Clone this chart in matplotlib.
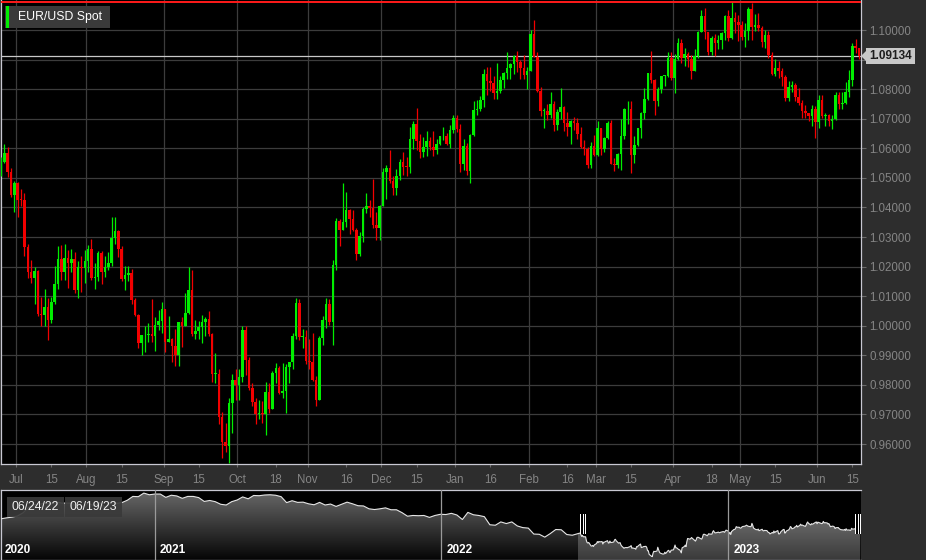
"""
EUR/USD Spot — velas diarias (jun 2022 - jun 2023) con navegador de 3 años.
"""

import numpy as np
import pandas as pd
import matplotlib
matplotlib.use("Agg")
import matplotlib.pyplot as plt  # noqa: E402
import matplotlib.dates as mdates  # noqa: E402
from matplotlib.patches import Rectangle, Polygon  # noqa: E402
from matplotlib.colors import LinearSegmentedColormap  # noqa: E402

plt.rcParams["font.family"] = ["Liberation Sans", "DejaVu Sans"]

# =====================================================================
# DATOS
# =====================================================================
TITULO = "EUR/USD Spot"
FECHA_INICIO, FECHA_FIN = "2022-06-24", "2023-06-19"

aperturas = [
    # jun 2022
    1.0520, 1.0554, 1.0583, 1.0519, 1.0442,
    # jul
    1.0484, 1.0426, 1.0425, 1.0266, 1.0182, 1.0162, 1.0186, 1.0040, 1.0036, 1.0062,
    1.0018, 1.0080, 1.0142, 1.0225, 1.0180, 1.0230, 1.0211, 1.0224, 1.0120, 1.0199, 1.0196,
    # ago
    1.0220, 1.0260, 1.0163, 1.0166, 1.0246, 1.0182, 1.0197, 1.0212, 1.0298, 1.0319,
    1.0259, 1.0159, 1.0170, 1.0178, 1.0088, 1.0036, 0.9942, 0.9967, 0.9970, 0.9973,
    0.9965, 1.0004, 1.0017,
    # sep
    1.0055, 0.9945, 0.9955, 0.9930, 0.9902, 1.0012, 1.0000, 1.0042, 1.0121, 0.9972,
    0.9981, 0.9994, 1.0014, 1.0024, 0.9971, 0.9838, 0.9838, 0.9690, 0.9607, 0.9592,
    0.9738, 0.9818,
    # oct
    0.9801, 0.9826, 0.9986, 0.9885, 0.9789, 0.9742, 0.9703, 0.9705, 0.9703, 0.9777,
    0.9720, 0.9841, 0.9857, 0.9774, 0.9778, 0.9861, 0.9876, 0.9966, 1.0078, 0.9963,
    0.9963,
    # nov
    0.9881, 0.9878, 0.9818, 0.9749, 0.9960, 1.0020, 1.0075, 1.0013, 1.0207, 1.0354,
    1.0325, 1.0350, 1.0393, 1.0362, 1.0325, 1.0244, 1.0305, 1.0396, 1.0406, 1.0399,
    1.0339, 1.0329,
    # dic
    1.0404, 1.0521, 1.0535, 1.0491, 1.0467, 1.0508, 1.0554, 1.0538, 1.0536, 1.0630,
    1.0682, 1.0626, 1.0587, 1.0606, 1.0623, 1.0605, 1.0595, 1.0616, 1.0640, 1.0640,
    1.0613, 1.0662,
    # ene 2023
    1.0704, 1.0665, 1.0547, 1.0607, 1.0522, 1.0645, 1.0731, 1.0734, 1.0762, 1.0851,
    1.0828, 1.0822, 1.0788, 1.0793, 1.0830, 1.0855, 1.0871, 1.0886, 1.0913, 1.0891,
    1.0871, 1.0849,
    # feb
    1.0863, 1.0988, 1.0910, 1.0794, 1.0726, 1.0727, 1.0713, 1.0749, 1.0680, 1.0723,
    1.0741, 1.0686, 1.0673, 1.0693, 1.0686, 1.0648, 1.0604, 1.0597, 1.0545, 1.0607,
    # mar
    1.0577, 1.0668, 1.0598, 1.0635, 1.0685, 1.0548, 1.0545, 1.0582, 1.0641, 1.0732,
    1.0732, 1.0577, 1.0610, 1.0668, 1.0718, 1.0767, 1.0855, 1.0831, 1.0760, 1.0800,
    1.0844, 1.0846, 1.0905,
    # abr
    1.0839, 1.0903, 1.0955, 1.0906, 1.0920, 1.0903, 1.0862, 1.0912, 1.0994, 1.1047,
    1.0993, 1.0925, 1.0973, 1.0955, 1.0966, 1.0991, 1.1049, 1.0973, 1.1040, 1.1027,
    # may
    1.1017, 1.0977, 1.0996, 1.1071, 1.1010, 1.1018, 1.1006, 1.0961, 1.0982, 1.0914,
    1.0850, 1.0873, 1.0862, 1.0841, 1.0771, 1.0806, 1.0813, 1.0773, 1.0752, 1.0726,
    1.0721, 1.0708, 1.0734,
    # jun
    1.0689, 1.0763, 1.0708, 1.0713, 1.0693, 1.0699, 1.0781, 1.0749, 1.0753, 1.0792,
    1.0830, 1.0945, 1.0939,
]

maximos = [
    1.0571, 1.0615, 1.0606, 1.0532, 1.0488,
    1.0486, 1.0463, 1.0449, 1.0276, 1.0221, 1.0200, 1.0188, 1.0098, 1.0123, 1.0093,
    1.0098, 1.0201, 1.0269, 1.0274, 1.0278, 1.0257, 1.0258, 1.0250, 1.0219, 1.0235, 1.0255,
    1.0274, 1.0294, 1.0211, 1.0254, 1.0252, 1.0235, 1.0248, 1.0369, 1.0368, 1.0325,
    1.0270, 1.0203, 1.0202, 1.0191, 1.0095, 1.0040, 0.9970, 0.9999, 1.0010, 1.0090,
    1.0030, 1.0054, 1.0080,
    1.0055, 1.0033, 0.9958, 0.9988, 1.0012, 1.0031, 1.0112, 1.0198, 1.0187, 1.0020,
    1.0017, 1.0037, 1.0030, 1.0051, 0.9976, 0.9907, 0.9853, 0.9707, 0.9670, 0.9754,
    0.9838, 0.9853,
    0.9853, 0.9999, 0.9999, 0.9894, 0.9807, 0.9755, 0.9750, 0.9747, 0.9809, 0.9807,
    0.9848, 0.9875, 0.9864, 0.9874, 0.9871, 0.9876, 0.9976, 1.0094, 1.0089, 0.9990,
    0.9984,
    0.9954, 0.9977, 0.9831, 0.9964, 1.0034, 1.0094, 1.0089, 1.0222, 1.0364, 1.0360,
    1.0481, 1.0453, 1.0395, 1.0390, 1.0331, 1.0318, 1.0402, 1.0448, 1.0426, 1.0497,
    1.0386, 1.0408,
    1.0534, 1.0544, 1.0594, 1.0507, 1.0530, 1.0564, 1.0588, 1.0569, 1.0673, 1.0694,
    1.0736, 1.0650, 1.0638, 1.0660, 1.0638, 1.0658, 1.0633, 1.0643, 1.0672, 1.0651,
    1.0679, 1.0714,
    1.0712, 1.0683, 1.0632, 1.0617, 1.0648, 1.0760, 1.0762, 1.0777, 1.0868, 1.0874,
    1.0875, 1.0844, 1.0887, 1.0845, 1.0859, 1.0927, 1.0889, 1.0915, 1.0930, 1.0898,
    1.0914, 1.0874,
    1.1001, 1.1033, 1.0925, 1.0806, 1.0736, 1.0749, 1.0790, 1.0760, 1.0733, 1.0805,
    1.0744, 1.0722, 1.0695, 1.0705, 1.0703, 1.0673, 1.0628, 1.0606, 1.0621, 1.0646,
    1.0691, 1.0670, 1.0637, 1.0694, 1.0695, 1.0566, 1.0584, 1.0700, 1.0736, 1.0759,
    1.0759, 1.0640, 1.0670, 1.0722, 1.0803, 1.0856, 1.0930, 1.0836, 1.0806, 1.0845,
    1.0849, 1.0927, 1.0925,
    1.0918, 1.0973, 1.0971, 1.0939, 1.0924, 1.0915, 1.0935, 1.0998, 1.1067, 1.1075,
    1.0993, 1.0980, 1.0985, 1.0983, 1.0994, 1.1050, 1.1068, 1.1095, 1.1060, 1.1050,
    1.1030, 1.1024, 1.1079, 1.1092, 1.1055, 1.1058, 1.1013, 1.1001, 1.0995, 1.0926,
    1.0901, 1.0895, 1.0872, 1.0848, 1.0829, 1.0827, 1.0820, 1.0804, 1.0762, 1.0746,
    1.0721, 1.0746, 1.0743,
    1.0779, 1.0780, 1.0720, 1.0717, 1.0713, 1.0789, 1.0792, 1.0790, 1.0823, 1.0865,
    1.0955, 1.0970, 1.0940,
]

minimos = [
    1.0506, 1.0549, 1.0504, 1.0436, 1.0383,
    1.0366, 1.0406, 1.0236, 1.0162, 1.0144, 1.0072, 1.0034, 1.0000, 0.9999, 0.9952,
    1.0008, 1.0075, 1.0125, 1.0153, 1.0154, 1.0129, 1.0183, 1.0110, 1.0095, 1.0114, 1.0146,
    1.0181, 1.0154, 1.0123, 1.0150, 1.0141, 1.0164, 1.0188, 1.0202, 1.0275, 1.0231,
    1.0150, 1.0122, 1.0150, 1.0075, 1.0033, 0.9926, 0.9900, 0.9910, 0.9946, 0.9946,
    0.9914, 0.9985, 0.9974,
    0.9910, 0.9945, 0.9877, 0.9864, 0.9864, 0.9929, 0.9998, 1.0040, 0.9966, 0.9955,
    0.9956, 0.9943, 0.9966, 0.9966, 0.9810, 0.9807, 0.9667, 0.9552, 0.9573, 0.9536,
    0.9636, 0.9749,
    0.9750, 0.9811, 0.9835, 0.9782, 0.9730, 0.9669, 0.9686, 0.9671, 0.9632, 0.9705,
    0.9720, 0.9806, 0.9768, 0.9757, 0.9705, 0.9808, 0.9852, 0.9955, 0.9953, 0.9924,
    0.9870,
    0.9852, 0.9813, 0.9730, 0.9749, 0.9935, 0.9992, 1.0001, 0.9936, 1.0188, 1.0271,
    1.0323, 1.0335, 1.0311, 1.0322, 1.0223, 1.0237, 1.0282, 1.0380, 1.0366, 1.0332,
    1.0289, 1.0290,
    1.0404, 1.0428, 1.0481, 1.0443, 1.0443, 1.0492, 1.0509, 1.0508, 1.0517, 1.0597,
    1.0594, 1.0567, 1.0569, 1.0573, 1.0595, 1.0574, 1.0582, 1.0612, 1.0627, 1.0610,
    1.0601, 1.0653,
    1.0655, 1.0519, 1.0527, 1.0509, 1.0483, 1.0643, 1.0713, 1.0727, 1.0741, 1.0780,
    1.0793, 1.0766, 1.0766, 1.0788, 1.0803, 1.0835, 1.0834, 1.0852, 1.0858, 1.0836,
    1.0836, 1.0802,
    1.0863, 1.0908, 1.0790, 1.0709, 1.0669, 1.0696, 1.0704, 1.0658, 1.0661, 1.0700,
    1.0658, 1.0641, 1.0613, 1.0662, 1.0631, 1.0600, 1.0576, 1.0535, 1.0533, 1.0575,
    1.0575, 1.0577, 1.0588, 1.0630, 1.0546, 1.0524, 1.0535, 1.0525, 1.0630, 1.0683,
    1.0516, 1.0551, 1.0609, 1.0634, 1.0700, 1.0762, 1.0820, 1.0713, 1.0744, 1.0787,
    1.0811, 1.0841, 1.0832,
    1.0788, 1.0898, 1.0888, 1.0878, 1.0876, 1.0836, 1.0861, 1.0905, 1.0992, 1.0971,
    1.0915, 1.0915, 1.0911, 1.0937, 1.0935, 1.0965, 1.0964, 1.0969, 1.0990, 1.0962,
    1.0966, 1.0942, 1.0967, 1.0967, 1.0997, 1.0997, 1.0943, 1.0940, 1.0906, 1.0849,
    1.0846, 1.0837, 1.0811, 1.0760, 1.0760, 1.0791, 1.0759, 1.0746, 1.0702, 1.0703,
    1.0693, 1.0676, 1.0635,
    1.0667, 1.0704, 1.0676, 1.0676, 1.0665, 1.0696, 1.0732, 1.0733, 1.0749, 1.0774,
    1.0809, 1.0921, 1.0903,
]

cierres = [
    1.0554, 1.0583, 1.0519, 1.0442, 1.0484,
    1.0426, 1.0425, 1.0266, 1.0182, 1.0162, 1.0186, 1.0040, 1.0036, 1.0062, 1.0018,
    1.0080, 1.0142, 1.0225, 1.0180, 1.0230, 1.0211, 1.0224, 1.0120, 1.0199, 1.0196, 1.0220,
    1.0260, 1.0163, 1.0166, 1.0246, 1.0182, 1.0197, 1.0212, 1.0298, 1.0319, 1.0259,
    1.0159, 1.0170, 1.0178, 1.0088, 1.0036, 0.9942, 0.9967, 0.9970, 0.9973, 0.9965,
    1.0004, 1.0017, 1.0055,
    0.9945, 0.9955, 0.9930, 0.9902, 1.0012, 1.0000, 1.0042, 1.0121, 0.9972, 0.9981,
    0.9994, 1.0014, 1.0024, 0.9971, 0.9838, 0.9838, 0.9690, 0.9607, 0.9592, 0.9738,
    0.9818, 0.9801,
    0.9826, 0.9986, 0.9885, 0.9789, 0.9742, 0.9703, 0.9705, 0.9703, 0.9777, 0.9720,
    0.9841, 0.9857, 0.9774, 0.9778, 0.9861, 0.9876, 0.9966, 1.0078, 0.9963, 0.9963,
    0.9881,
    0.9878, 0.9818, 0.9749, 0.9960, 1.0020, 1.0075, 1.0013, 1.0207, 1.0354, 1.0325,
    1.0350, 1.0393, 1.0362, 1.0325, 1.0244, 1.0305, 1.0396, 1.0406, 1.0399, 1.0339,
    1.0329, 1.0404,
    1.0521, 1.0535, 1.0491, 1.0467, 1.0508, 1.0554, 1.0538, 1.0536, 1.0630, 1.0682,
    1.0626, 1.0587, 1.0606, 1.0623, 1.0605, 1.0595, 1.0616, 1.0640, 1.0640, 1.0613,
    1.0662, 1.0704,
    1.0665, 1.0547, 1.0607, 1.0522, 1.0645, 1.0731, 1.0734, 1.0762, 1.0851, 1.0828,
    1.0822, 1.0788, 1.0793, 1.0830, 1.0855, 1.0871, 1.0886, 1.0913, 1.0891, 1.0871,
    1.0849, 1.0863,
    1.0988, 1.0910, 1.0794, 1.0726, 1.0727, 1.0713, 1.0749, 1.0680, 1.0723, 1.0741,
    1.0686, 1.0673, 1.0693, 1.0686, 1.0648, 1.0604, 1.0597, 1.0545, 1.0607, 1.0577,
    1.0668, 1.0598, 1.0635, 1.0685, 1.0548, 1.0545, 1.0582, 1.0641, 1.0732, 1.0732,
    1.0577, 1.0610, 1.0668, 1.0718, 1.0767, 1.0855, 1.0831, 1.0760, 1.0800, 1.0844,
    1.0846, 1.0905, 1.0839,
    1.0903, 1.0955, 1.0906, 1.0920, 1.0903, 1.0862, 1.0912, 1.0994, 1.1047, 1.0993,
    1.0925, 1.0973, 1.0955, 1.0966, 1.0991, 1.1049, 1.0973, 1.1040, 1.1027, 1.1017,
    1.0977, 1.0996, 1.1071, 1.1010, 1.1018, 1.1006, 1.0961, 1.0982, 1.0914, 1.0850,
    1.0873, 1.0862, 1.0841, 1.0771, 1.0806, 1.0813, 1.0773, 1.0752, 1.0726, 1.0721,
    1.0708, 1.0734, 1.0689,
    1.0763, 1.0708, 1.0713, 1.0693, 1.0699, 1.0781, 1.0749, 1.0753, 1.0792, 1.0830,
    1.0945, 1.0939, 1.09134,
]

# Navegador: cierres semanales (viernes) desde 2020-06-19 hasta 2022-06-17
NAV_INICIO = "2020-06-19"
nav_semanal = [
    1.118, 1.122, 1.125, 1.130, 1.143, 1.166, 1.178, 1.179, 1.184, 1.180,
    1.190, 1.184, 1.184, 1.184, 1.163, 1.171, 1.183, 1.172, 1.186, 1.165,
    1.188, 1.183, 1.186, 1.196, 1.212, 1.211, 1.226, 1.219, 1.222, 1.222,
    1.208, 1.217, 1.214, 1.204, 1.212, 1.212, 1.207, 1.191, 1.195, 1.190,
    1.179, 1.176, 1.190, 1.197, 1.210, 1.202, 1.216, 1.215, 1.218, 1.219,
    1.217, 1.211, 1.186, 1.194, 1.187, 1.188, 1.181, 1.177, 1.187, 1.176,
    1.180, 1.170, 1.179, 1.188, 1.181, 1.173, 1.172, 1.160, 1.157, 1.160,
    1.164, 1.156, 1.156, 1.144, 1.129, 1.132, 1.131, 1.132, 1.124, 1.132,
    1.137, 1.136, 1.141, 1.134, 1.115, 1.145, 1.135, 1.132, 1.127, 1.093,
    1.091, 1.105, 1.098, 1.105, 1.088, 1.081, 1.079, 1.054, 1.053, 1.041,
    1.056, 1.073, 1.072, 1.052, 1.049,
]

# Etiquetas del eje X (fecha donde va cada etiqueta)
ticks_x_fechas = [
    "2022-07-01", "2022-07-15", "2022-08-01", "2022-08-15", "2022-09-01", "2022-09-15",
    "2022-10-03", "2022-10-18", "2022-11-01", "2022-11-16", "2022-12-01", "2022-12-15",
    "2023-01-02", "2023-01-16", "2023-02-01", "2023-02-16", "2023-03-01", "2023-03-15",
    "2023-04-03", "2023-04-18", "2023-05-01", "2023-05-15", "2023-06-01", "2023-06-15",
]
ticks_x_textos = [
    "Jul", "15", "Aug", "15", "Sep", "15", "Oct", "18", "Nov", "16", "Dec", "15",
    "Jan", "16", "Feb", "16", "Mar", "15", "Apr", "18", "May", "15", "Jun", "15",
]
ticks_y = [0.96, 0.97, 0.98, 0.99, 1.00, 1.01, 1.02, 1.03, 1.04, 1.05,
           1.06, 1.07, 1.08, 1.09, 1.10]
anios_nav = ["2020", "2021", "2022", "2023"]

# =====================================================================
# ESTILO / GEOMETRÍA (pixeles)
# =====================================================================
W, H = 926, 560
FONDO = "#2d2d2d"
VERDE = "#00ee00"
ROJO = "#f20000"
REJILLA = "#3c3c3c"
BORDE = "#c8c8d2"
TEXTO_EJE = "#858585"


def fx(x):
    return x / W


def fy(y):
    return 1 - y / H


def caja(fig, x0, y0, x1, y1, color, alpha=1.0, z=5):
    fig.patches.append(Rectangle((fx(x0), fy(y1)), (x1 - x0) / W, (y1 - y0) / H,
                                 transform=fig.transFigure, fc=color, ec="none",
                                 alpha=alpha, zorder=z))


fig = plt.figure(figsize=(W / 100, H / 100), dpi=100, facecolor=FONDO)

# =====================================================================
# GRÁFICO PRINCIPAL: VELAS
# =====================================================================
fechas = pd.bdate_range(FECHA_INICIO, FECHA_FIN)
idx = np.arange(len(fechas))
o, h, l, c = (np.array(v) for v in (aperturas, maximos, minimos, cierres))

ax = fig.add_axes([fx(1), fy(464), 860 / W, 464 / H])
ax.set_facecolor("black")
ax.set_xlim(0, 256.6)
ax.set_ylim(0.95324, 1.11015)

sube = c >= o
colores = np.where(sube, VERDE, ROJO)
cuerpo_inf = np.minimum(o, c)
cuerpo_alto = np.maximum(np.abs(c - o), 0.00025)
ax.vlines(idx, np.minimum(l, cuerpo_inf), np.maximum(h, np.maximum(o, c)),
          colors=colores, linewidth=0.9, zorder=3)
ax.bar(idx, cuerpo_alto, bottom=cuerpo_inf, width=0.76, color=colores,
       linewidth=0, zorder=4)

# rejilla: horizontales en cada 0.01, verticales al inicio de cada mes
pos_x = [fechas.get_loc(pd.Timestamp(f)) for f in ticks_x_fechas]
pos_x = [p - 0.5 if t.isalpha() else p for p, t in zip(pos_x, ticks_x_textos)]
for p, t in zip(pos_x, ticks_x_textos):
    if t.isalpha():
        ax.axvline(p, color=REJILLA, linewidth=0.9, zorder=1)
for v in ticks_y:
    ax.axhline(v, color=REJILLA, linewidth=0.9, zorder=1)

# línea de máximo (roja) y precio actual (gris claro)
ax.axhline(max(maximos), color="#ff1a1a", linewidth=1.4, zorder=5)
ax.axhline(cierres[-1], color="#c8c8c8", linewidth=0.9, zorder=2)

ax.set_xticks(pos_x, ticks_x_textos)
# la etiqueta 1.09000 queda tapada por la del precio actual
ax.set_yticks(ticks_y, ["" if abs(v - cierres[-1]) < 0.005 else f"{v:.5f}" for v in ticks_y])
ax.yaxis.tick_right()
ax.tick_params(axis="x", colors="#6a6a6a", labelcolor=TEXTO_EJE, length=2.5,
               width=0.8, pad=4.5, labelsize=8.3)
ax.tick_params(axis="y", colors="#6a6a6a", labelcolor=TEXTO_EJE, length=3.5,
               width=0.8, pad=2.5, labelsize=8.3)
for lado in ("left", "bottom", "right"):
    ax.spines[lado].set_color(BORDE)
    ax.spines[lado].set_linewidth(0.9)
ax.spines["top"].set_visible(False)

# =====================================================================
# NAVEGADOR
# =====================================================================
nav = fig.add_axes([fx(1), 0, 860 / W, 70 / H])
nav.set_facecolor("black")
x_nav = np.concatenate([mdates.date2num(pd.date_range(NAV_INICIO, periods=len(nav_semanal), freq="7D")),
                        mdates.date2num(fechas)])
y_nav = np.array(nav_semanal + cierres)
nx0, nx1 = mdates.date2num(pd.Timestamp(NAV_INICIO)), mdates.date2num(pd.Timestamp("2023-06-20"))
ny0, ny1 = 0.945, 1.239

silueta = Polygon([(x_nav[0], ny0)] + list(zip(x_nav, y_nav)) + [(x_nav[-1], ny0)],
                  closed=True, fc="none", ec="none", transform=nav.transData)
nav.add_patch(silueta)
grad = np.linspace(1, 0, 256).reshape(-1, 1)
gris_osc = LinearSegmentedColormap.from_list("osc", ["#050505", "#6a6a6a"])
gris_cla = LinearSegmentedColormap.from_list("cla", ["#3a3a3a", "#8c8c8c"])
im1 = nav.imshow(grad, extent=[nx0, nx1, ny0, ny1], aspect="auto", cmap=gris_osc,
                 origin="upper", zorder=1)
im1.set_clip_path(silueta)
sel0, sel1 = mdates.date2num(fechas[0]), mdates.date2num(fechas[-1])
im2 = nav.imshow(grad, extent=[sel0, sel1, ny0, ny1], aspect="auto", cmap=gris_cla,
                 origin="upper", zorder=1.5)
im2.set_clip_path(silueta)
nav.plot(x_nav, y_nav, color="#e6e6e6", linewidth=0.8, zorder=3)
for anio in anios_nav[1:]:
    nav.axvline(mdates.date2num(pd.Timestamp(f"{anio}-01-01")), color="#9a9a9a",
                linewidth=0.9, zorder=4)
nav.set_xlim(nx0, nx1)
nav.set_ylim(ny0, ny1)
nav.set_xticks([])
nav.set_yticks([])
for lado in ("left", "top", "bottom"):
    nav.spines[lado].set_color(BORDE)
    nav.spines[lado].set_linewidth(0.9)
nav.spines["right"].set_visible(False)

for anio, xp in zip(anios_nav, [5, 160, 447, 734]):
    fig.text(fx(xp), fy(550), anio, color="white", fontsize=8.5, fontweight="bold",
             va="center", ha="left", zorder=6)

# asas de selección
for xh in (580, 855):
    caja(fig, xh, 514, xh + 6, 534, "black", z=6)
    for k in (0, 2.5, 5):
        caja(fig, xh + k, 514, xh + k + 1, 534, "white", z=7)

# cajas de fechas del rango
for (x0, x1), txt in zip([(7, 64), (65, 122)], ["06/24/22", "06/19/23"]):
    caja(fig, x0, 497, x1, 517, "#3a3a3a", alpha=0.92, z=6)
    fig.text(fx((x0 + x1) / 2), fy(507), txt, color="#f0f0f0", fontsize=8.8,
             ha="center", va="center", zorder=7)

# =====================================================================
# LEYENDA Y ETIQUETA DE PRECIO
# =====================================================================
caja(fig, 5, 6, 110, 28, "#3a3a3a", z=6)
caja(fig, 6, 6, 9, 28, VERDE, z=7)
fig.text(fx(18), fy(17), TITULO, color="white", fontsize=8.8, ha="left",
         va="center", zorder=7)

caja(fig, 866, 48, 915, 64, "#c8c8c8", z=6)
fig.patches.append(Polygon([(fx(861), fy(56)), (fx(866), fy(51)), (fx(866), fy(61))],
                           closed=True, transform=fig.transFigure, fc="#c8c8c8",
                           ec="none", zorder=6))
fig.text(fx(890.5), fy(56), f"{cierres[-1]:.5f}", color="#1e1e1e", fontsize=8.5,
         fontweight="bold", ha="center", va="center", zorder=7)

fig.savefig("out.png", dpi=100, facecolor=FONDO)
